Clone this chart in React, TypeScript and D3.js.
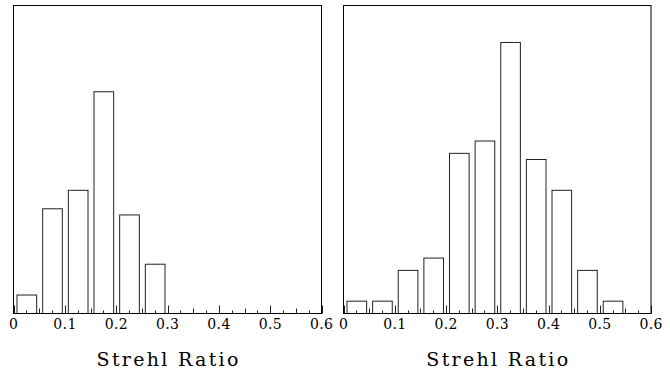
import React from "react";
import * as d3 from "d3";

const binStarts = [0, 0.05, 0.1, 0.15, 0.2, 0.25, 0.3, 0.35, 0.4, 0.45, 0.5, 0.55];
const leftCounts = [3, 17, 20, 36, 16, 8, 0, 0, 0, 0, 0, 0];
const rightCounts = [2, 2, 7, 9, 26, 28, 44, 25, 20, 7, 2, 0];
const tickLabels = ["0", "0.1", "0.2", "0.3", "0.4", "0.5", "0.6"];
const tickValues = [0, 0.1, 0.2, 0.3, 0.4, 0.5, 0.6];
const xLabel = "Strehl Ratio";
const binWidth = 0.05;
const yMax = 50;

const W = 670;
const H = 373;
const TOP = 5.5;
const BOTTOM = 313.5;
const TICK_LS = 0.4;
const LABEL_LS = 2.3;

function Panel({ x0, x1, counts }: { x0: number; x1: number; counts: number[] }) {
  const x = d3.scaleLinear().domain([0, 0.6]).range([x0, x1]);
  const y = d3.scaleLinear().domain([0, yMax]).range([BOTTOM, TOP]);
  const minor = d3.range(0, 0.6001, 0.025);
  return (
    <g>
      {counts.map((c, i) =>
        c > 0 ? (
          <rect
            key={i}
            x={x(binStarts[i]) + 3.5}
            y={y(c)}
            width={x(binStarts[i] + binWidth) - x(binStarts[i]) - 6}
            height={BOTTOM - y(c)}
            fill="none"
            stroke="#222"
            strokeWidth={1}
          />
        ) : null
      )}
      {minor.map((t, i) => {
        const k = Math.round(t / 0.025);
        const len = k % 4 === 0 ? 8 : k % 2 === 0 ? 5 : 3;
        const px = Math.round(x(t)) + 0.5;
        return <line key={i} x1={px} x2={px} y1={BOTTOM} y2={BOTTOM - len} stroke="#222" strokeWidth={1} />;
      })}
      <rect x={x0} y={TOP} width={x1 - x0} height={BOTTOM - TOP} fill="none" stroke="#000" strokeWidth={1} />
      {tickValues.map((t, i) => (
        <text
          key={i}
          x={x(t) + TICK_LS / 2}
          y={328.5}
          textAnchor="middle"
          fontFamily="DejaVu Serif"
          fontSize={14}
          letterSpacing={TICK_LS}
          fill="#000"
        >
          {tickLabels[i]}
        </text>
      ))}
      <text
        x={(x0 + x1) / 2 + LABEL_LS / 2}
        y={365.5}
        textAnchor="middle"
        fontFamily="DejaVu Serif"
        fontSize={19}
        letterSpacing={LABEL_LS}
        fill="#000"
      >
        {xLabel}
      </text>
    </g>
  );
}

export default function App() {
  return (
    <svg
      width={W}
      height={H}
      viewBox={`0 0 ${W} ${H}`}
      style={{ position: "fixed", left: 0, top: 0, background: "#fff", display: "block" }}
    >
      <rect x={0} y={0} width={W} height={H} fill="#fff" />
      <Panel x0={13.5} x1={321.5} counts={leftCounts} />
      <Panel x0={343.5} x1={651} counts={rightCounts} />
    </svg>
  );
}
